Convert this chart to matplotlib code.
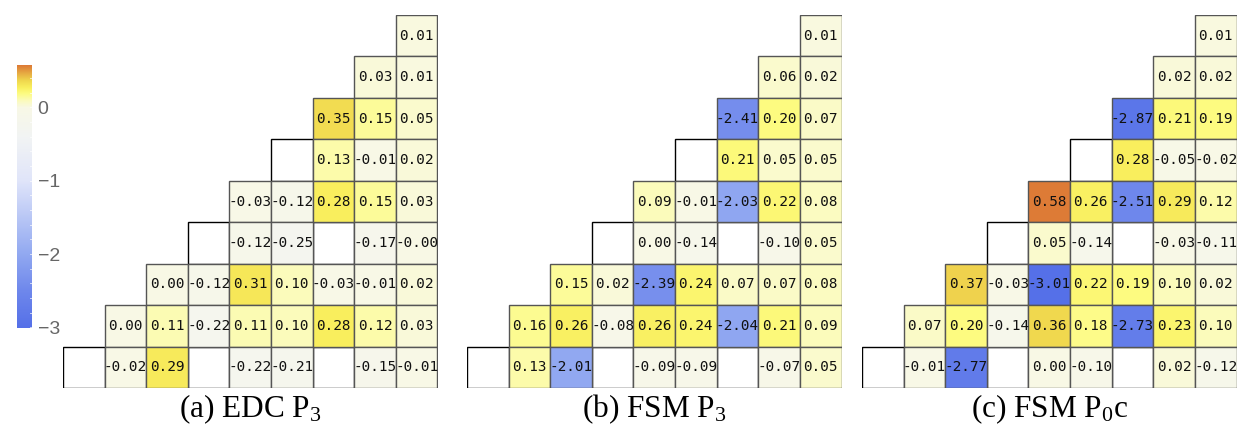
import numpy as np
import matplotlib
matplotlib.use("Agg")
import matplotlib.pyplot as plt
from matplotlib.colors import LinearSegmentedColormap, Normalize
from matplotlib.patches import Rectangle

plt.rcParams['mathtext.fontset'] = 'custom'
plt.rcParams['mathtext.rm'] = 'Liberation Serif'
plt.rcParams['mathtext.it'] = 'Liberation Serif:italic'

N = 9
# rows from top; row i covers columns 8-i .. 8 ; None = empty cell
edc_p3 = [
    [0.01],
    [0.03, 0.01],
    [0.35, 0.15, 0.05],
    [None, 0.13, -0.01, 0.02],
    [-0.03, -0.12, 0.28, 0.15, 0.03],
    [None, -0.12, -0.25, None, -0.17, -0.0],
    [0.00, -0.12, 0.31, 0.10, -0.03, -0.01, 0.02],
    [0.00, 0.11, -0.22, 0.11, 0.10, 0.28, 0.12, 0.03],
    [None, -0.02, 0.29, None, -0.22, -0.21, None, -0.15, -0.01],
]
fsm_p3 = [
    [0.01],
    [0.06, 0.02],
    [-2.41, 0.20, 0.07],
    [None, 0.21, 0.05, 0.05],
    [0.09, -0.01, -2.03, 0.22, 0.08],
    [None, 0.00, -0.14, None, -0.10, 0.05],
    [0.15, 0.02, -2.39, 0.24, 0.07, 0.07, 0.08],
    [0.16, 0.26, -0.08, 0.26, 0.24, -2.04, 0.21, 0.09],
    [None, 0.13, -2.01, None, -0.09, -0.09, None, -0.07, 0.05],
]
fsm_p0c = [
    [0.01],
    [0.02, 0.02],
    [-2.87, 0.21, 0.19],
    [None, 0.28, -0.05, -0.02],
    [0.58, 0.26, -2.51, 0.29, 0.12],
    [None, 0.05, -0.14, None, -0.03, -0.11],
    [0.37, -0.03, -3.01, 0.22, 0.19, 0.10, 0.02],
    [0.07, 0.20, -0.14, 0.36, 0.18, -2.73, 0.23, 0.10],
    [None, -0.01, -2.77, None, 0.00, -0.10, None, 0.02, -0.12],
]
panels = [edc_p3, fsm_p3, fsm_p0c]
captions = [r"(a) EDC $\mathrm{P}_3$", r"(b) FSM $\mathrm{P}_3$", r"(c) FSM $\mathrm{P}_0\mathrm{c}$"]
cbar_ticks = [0, -1, -2, -3]

vmin, vmax = -3.01, 0.58
nodes = [(-3.01, "#5570e8"), (-2.5, "#6f88ec"), (-2.0, "#92a9f1"), (-1.0, "#e0e5fa"),
         (-0.4, "#f2f4f4"), (0.0, "#f8f8e6"), (0.1, "#fbfbbc"), (0.2, "#fdfb80"),
         (0.28, "#f9ef5e"), (0.37, "#f0d84e"), (0.58, "#dd7b36")]
cmap = LinearSegmentedColormap.from_list(
    "cm", [((v - vmin) / (vmax - vmin), c) for v, c in nodes])
norm = Normalize(vmin, vmax)

W, H = 1242, 428
fig = plt.figure(figsize=(W / 100, H / 100), dpi=100)

lefts = [63, 467, 862]
gw = 374.5
top, bottom = 15, 388
for p, (data, cap, lx) in enumerate(zip(panels, captions, lefts)):
    ax = fig.add_axes([lx / W, (H - bottom) / H, gw / W, (bottom - top) / H])
    ax.set_xlim(0, N)
    ax.set_ylim(N, 0)
    ax.axis('off')
    for i, row in enumerate(data):
        for k, v in enumerate(row):
            j = N - 1 - i + k
            if v is None:
                ax.add_patch(Rectangle((j, i), 1, 1, facecolor='white',
                                       edgecolor='black', lw=1.0, zorder=1))
            else:
                ax.add_patch(Rectangle((j, i), 1, 1, facecolor=cmap(norm(v)),
                                       edgecolor='#555555', lw=1.0, zorder=2))
                ax.text(j + 0.5, i + 0.5, f"{v:.2f}", ha='center', va='center',
                        fontsize=10.4, family='DejaVu Sans Mono', color='#111111', zorder=3)
    fig.text((lx + gw / 2) / W, 1 - 409 / H, cap, ha='center', va='center',
             fontsize=22.5, family='Liberation Serif')

# colorbar
cax = fig.add_axes([17 / W, (H - 328) / H, 15 / W, 263 / H])
grad = np.linspace(vmin, vmax, 256).reshape(-1, 1)
cax.imshow(grad, aspect='auto', cmap=cmap, norm=norm, origin='lower',
           extent=[0, 1, vmin, vmax])
cax.set_xticks([])
cax.yaxis.tick_right()
cax.set_yticks(cbar_ticks)
cax.set_yticklabels(["0" if t == 0 else "\u2212" + str(abs(t)) for t in cbar_ticks],
                    fontsize=14, color='#666666', family='Liberation Sans')
cax.tick_params(axis='y', length=0, pad=4)
for s in cax.spines.values():
    s.set_visible(False)
for t in np.arange(-3.0, 0.6, 0.2):
    cax.plot([0.85, 1.0], [t, t], color='white', lw=0.6, alpha=0.8)
cax.set_xlim(0, 1)
cax.set_ylim(vmin, vmax)

fig.savefig("out.png", dpi=100)
